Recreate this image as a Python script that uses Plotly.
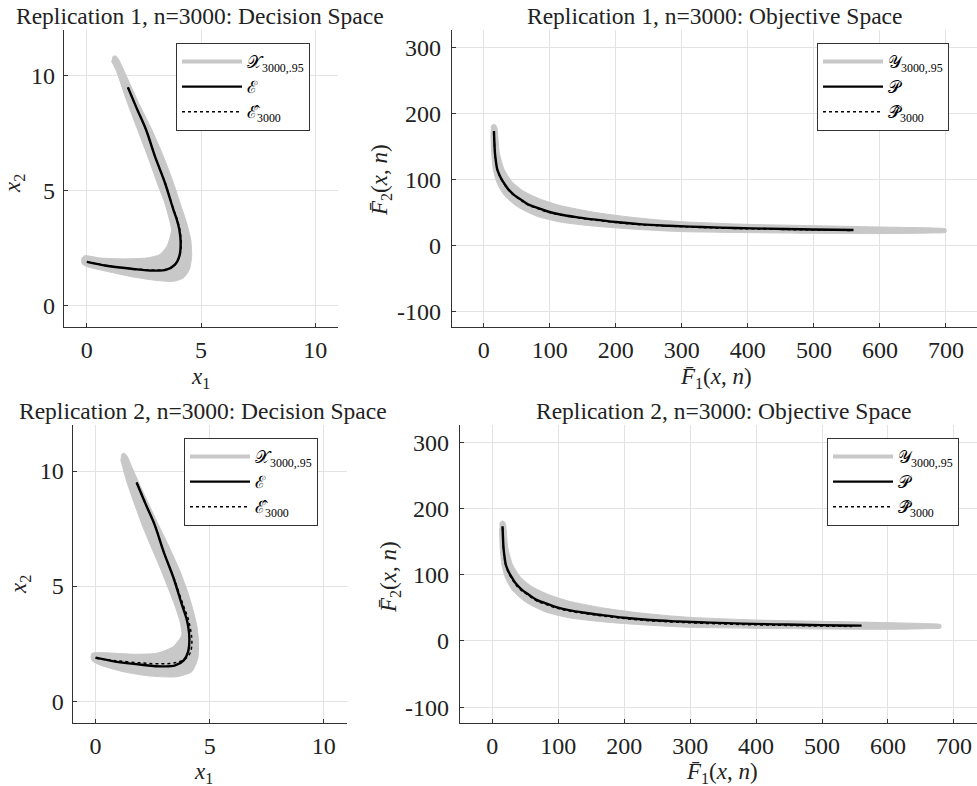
import plotly.graph_objects as go

# ---------------- Data: decision space ----------------
# true efficient set E (same for both replications)
E_x1 = [1.80, 2.20, 2.59, 2.98, 3.42, 3.79, 3.95, 4.05, 4.11, 4.05, 3.86, 3.49, 2.91, 2.03, 0.86, 0.00]
E_x2 = [9.50, 8.55, 7.66, 6.50, 5.34, 4.17, 3.70, 3.30, 2.72, 2.13, 1.77, 1.55, 1.51, 1.58, 1.72, 1.89]

# replication 1 estimated efficient set
Ehat1_x1 = [1.80, 2.20, 2.59, 2.98, 3.43, 3.80, 3.97, 4.07, 4.13, 4.07, 3.88, 3.50, 2.91, 2.03, 0.86, 0.00]
Ehat1_x2 = [9.50, 8.55, 7.66, 6.50, 5.34, 4.17, 3.70, 3.30, 2.72, 2.15, 1.79, 1.57, 1.53, 1.59, 1.73, 1.89]

# replication 1 confidence region X_{3000,.95} (boundary polygon)
X1_x1 = [1.12, 1.25, 1.40, 1.75, 2.30, 2.84, 3.35, 3.79, 4.08, 4.37, 4.55, 4.59, 4.49, 4.23, 3.79, 3.06, 2.03, 0.86,
         -0.01, -0.20, -0.23, -0.20, -0.09, 0.57, 1.59, 2.62, 3.20, 3.51, 3.64, 3.71, 3.40, 3.13, 2.70, 2.22, 1.75, 1.30, 1.08]
X1_x2 = [10.82, 10.88, 10.70, 9.95, 8.75, 7.66, 6.50, 5.34, 4.46, 3.59, 2.86, 2.13, 1.55, 1.19, 1.04, 1.08, 1.23, 1.48,
         1.69, 1.80, 1.95, 2.08, 2.16, 2.06, 2.02, 2.06, 2.21, 2.57, 2.95, 3.30, 4.50, 5.20, 6.40, 7.66, 8.90, 10.20, 10.65]

# replication 2 estimated efficient set
Ehat2_x1 = [1.80, 2.20, 2.59, 2.98, 3.45, 3.85, 4.05, 4.18, 4.22, 4.15, 3.95, 3.55, 2.91, 2.03, 0.86, 0.00]
Ehat2_x2 = [9.50, 8.55, 7.66, 6.50, 5.30, 4.15, 3.60, 3.00, 2.55, 2.10, 1.85, 1.68, 1.62, 1.66, 1.76, 1.86]

# replication 2 confidence region
X2_x1 = [1.12, 1.25, 1.40, 1.60, 2.10, 2.68, 3.20, 3.70, 4.05, 4.29, 4.45, 4.51, 4.48, 4.22, 3.56, 2.39, 1.21, 0.19,
         -0.15, -0.20, -0.15, 0.19, 1.65, 2.68, 3.41, 3.78, 3.70, 3.41, 2.83, 2.09, 1.36, 1.10]
X2_x2 = [10.70, 10.78, 10.62, 10.15, 9.05, 7.82, 6.75, 5.64, 4.70, 3.89, 3.20, 2.59, 1.86, 1.28, 1.06, 1.09, 1.28, 1.57,
         1.76, 1.93, 2.08, 2.11, 2.04, 2.08, 2.37, 2.88, 3.46, 4.33, 5.79, 7.53, 9.56, 10.50]

# ---------------- Data: objective space ----------------
P_f1 = [15.5, 16, 17, 18.5, 20.5, 24, 27, 32, 37, 45, 55, 67, 80, 97, 116, 140, 166, 200, 240, 280, 330, 380, 430, 480, 530, 560]
P_f2 = [173, 160, 140, 127, 115, 106, 100, 92, 85, 77, 70, 62, 57, 51, 46.5, 42.5, 39, 35, 31.5, 29.5, 27.5, 26, 25, 24, 23.3, 23]

Phat1_f1 = [15.5, 16, 17, 18.5, 20.5, 24, 27, 32, 37, 45, 55, 67, 80, 97, 116, 140, 166, 200, 240, 280, 330, 380, 430, 480, 530, 555]
Phat1_f2 = [172, 159, 139, 126, 114, 105, 99, 91, 84, 76, 69, 61, 56, 50, 45.8, 41.8, 38.3, 34.3, 30.8, 28.8, 26.8, 25.3, 24.3, 23.3, 22.6, 22.3]

Y1_f1 = [11, 13, 15.5, 18, 20, 23.6, 30.8, 42, 60, 85, 116, 166, 217, 267, 300, 400, 500, 600, 680, 700,
         700, 680, 600, 500, 400, 300, 267, 217, 166, 116, 80, 50, 30, 20, 14.5, 12, 11]
Y1_f2 = [178, 182, 183, 182, 178, 140, 115, 97, 82, 70, 60, 50, 43, 38, 35.5, 31.5, 29.5, 27.5, 26, 24.5,
         19.5, 18.5, 17.5, 18, 19, 20.5, 22, 25, 29, 35, 44, 59, 77, 95, 115, 140, 171]

Phat2_f1 = [15.5, 16, 17, 18.5, 20.5, 24, 27, 32, 37, 45, 55, 67, 80, 97, 116, 140, 166, 200, 240, 280, 330, 380, 430, 480, 530, 545]
Phat2_f2 = [171, 158, 138, 125, 113, 104, 98, 90, 83, 75.5, 68.5, 60.5, 55.5, 49.5, 45.3, 41.3, 37.8, 33.8, 30.3, 28.2, 26.2, 24.7, 23.7, 22.7, 22.0, 21.8]

Y2_f1 = [11, 13, 15.5, 18, 20, 23.6, 30.8, 42, 60, 85, 116, 166, 217, 267, 300, 400, 500, 600, 660, 680,
         680, 660, 600, 500, 400, 300, 267, 217, 166, 116, 80, 50, 30, 20, 14.5, 12, 11]
Y2_f2 = [176, 180, 181, 180, 176, 140, 115, 97, 82, 70, 60, 50, 43, 38, 35.5, 31.5, 29.5, 27.5, 26, 24.5,
         19.5, 18.5, 17.5, 18, 19, 20.5, 22, 25, 29, 35, 44, 59, 77, 95, 115, 140, 170]

# ---------------- Tick labels ----------------
dec_ticks = [0, 5, 10]
dec_ticktext = ["0", "5", "10"]
obj_xticks = [0, 100, 200, 300, 400, 500, 600, 700]
obj_xticktext = ["0", "100", "200", "300", "400", "500", "600", "700"]
obj_yticks = [-100, 0, 100, 200, 300]
obj_yticktext = ["-100", "0", "100", "200", "300"]

titles = ["Replication 1, n=3000: Decision Space", "Replication 1, n=3000: Objective Space",
          "Replication 2, n=3000: Decision Space", "Replication 2, n=3000: Objective Space"]

GRAY = "#c8c8c8"
FONT = "Liberation Serif"
W, H = 977, 786

fig = go.Figure()


def px_x(p):
    return p / W


def px_y(p):
    return 1 - p / H


panels = [
    ("x", "y", "legend", X1_x1, X1_x2, E_x1, E_x2, Ehat1_x1, Ehat1_x2,
     ("𝒳<sub>3000,.95</sub>", "ℰ", "ℰ̂<sub>3000</sub>")),
    ("x2", "y2", "legend2", Y1_f1, Y1_f2, P_f1, P_f2, Phat1_f1, Phat1_f2,
     ("𝒴<sub>3000,.95</sub>", "𝒫", "𝒫̂<sub>3000</sub>")),
    ("x3", "y3", "legend3", X2_x1, X2_x2, E_x1, E_x2, Ehat2_x1, Ehat2_x2,
     ("𝒳<sub>3000,.95</sub>", "ℰ", "ℰ̂<sub>3000</sub>")),
    ("x4", "y4", "legend4", Y2_f1, Y2_f2, P_f1, P_f2, Phat2_f1, Phat2_f2,
     ("𝒴<sub>3000,.95</sub>", "𝒫", "𝒫̂<sub>3000</sub>")),
]

for xa, ya, lg, bx, by, tx, ty, hx, hy, names in panels:
    fig.add_trace(go.Scatter(x=bx, y=by, xaxis=xa, yaxis=ya, mode="lines", fill="toself",
                             line_shape="spline", line_smoothing=0.6,
                             fillcolor=GRAY, line=dict(color=GRAY, width=1), showlegend=False,
                             hoverinfo="skip"))
    fig.add_trace(go.Scatter(x=[None], y=[None], xaxis=xa, yaxis=ya, mode="lines",
                             line=dict(color=GRAY, width=4), name=names[0], legend=lg))
    fig.add_trace(go.Scatter(x=tx, y=ty, xaxis=xa, yaxis=ya, mode="lines", line_shape="spline",
                             line=dict(color="black", width=2.4), name=names[1], legend=lg))
    fig.add_trace(go.Scatter(x=hx, y=hy, xaxis=xa, yaxis=ya, mode="lines", line_shape="spline",
                             line=dict(color="black", width=1.5, dash="dot"), name=names[2], legend=lg))

axis_common = dict(showline=True, linecolor="#333333", linewidth=1.2, mirror=False,
                   showgrid=True, gridcolor="#e3e3e3", gridwidth=1, zeroline=False,
                   ticks="inside", ticklen=4, tickcolor="#333333", automargin=False,
                   tickfont=dict(family=FONT, size=24, color="#222222"))

# panel geometry in pixels (left, right, top, bottom)
geo = {
    "1": (64, 338, 30, 327),
    "2": (452, 977, 30, 327),
    "3": (72.7, 346.7, 425, 723),
    "4": (460, 977, 425, 723),
}

layout_axes = {}
for k, (l, r, t, b) in geo.items():
    sfx = "" if k == "1" else k
    layout_axes["xaxis" + sfx] = dict(domain=[px_x(l), px_x(r)], anchor="y" + sfx, **axis_common)
    layout_axes["yaxis" + sfx] = dict(domain=[px_y(b), px_y(t)], anchor="x" + sfx, **axis_common)

for sfx in ["", "3"]:
    layout_axes["xaxis" + sfx].update(range=[-1.0, 11.0], tickvals=dec_ticks, ticktext=dec_ticktext,
                                      ticklabelstandoff=1)
    layout_axes["yaxis" + sfx].update(range=[-0.95, 12.0], tickvals=dec_ticks, ticktext=dec_ticktext,
                                      ticklabelstandoff=3)
layout_axes["xaxis2"].update(range=[-48, 747], tickvals=obj_xticks, ticktext=obj_xticktext, ticklabelstandoff=1)
layout_axes["xaxis4"].update(range=[-49, 735], tickvals=obj_xticks, ticktext=obj_xticktext, ticklabelstandoff=1)
for sfx in ["2", "4"]:
    layout_axes["yaxis" + sfx].update(range=[-124, 326], tickvals=obj_yticks, ticktext=obj_yticktext,
                                      ticklabelstandoff=5)

legend_common = dict(bgcolor="white", bordercolor="#333333", borderwidth=1,
                     font=dict(family=FONT, size=17, color="black"), itemwidth=60,
                     xanchor="left", yanchor="top", tracegroupgap=0)

annotations = []
title_pos = [(200, 16), (714, 16), (203, 411), (723, 411)]
for (cx, cy), txt in zip(title_pos, titles):
    annotations.append(dict(x=px_x(cx), y=px_y(cy), xref="paper", yref="paper", text=txt, showarrow=False,
                            xanchor="center", yanchor="middle",
                            font=dict(family=FONT, size=23.5, color="#222222")))

axis_labels = [
    (200, 378, "<i>x</i><sub>1</sub>", 0),
    (14, 184, "<i>x</i><sub>2</sub>", -90),
    (716, 378, "<i>F̄</i><sub>1</sub>(<i>x</i>, <i>n</i>)", 0),
    (381, 180, "<i>F̄</i><sub>2</sub>(<i>x</i>, <i>n</i>)", -90),
    (203, 773, "<i>x</i><sub>1</sub>", 0),
    (20, 585, "<i>x</i><sub>2</sub>", -90),
    (722, 773, "<i>F̄</i><sub>1</sub>(<i>x</i>, <i>n</i>)", 0),
    (390, 577, "<i>F̄</i><sub>2</sub>(<i>x</i>, <i>n</i>)", -90),
]
for cx, cy, txt, ang in axis_labels:
    annotations.append(dict(x=px_x(cx), y=px_y(cy), xref="paper", yref="paper", text=txt, showarrow=False,
                            xanchor="center", yanchor="middle", textangle=ang,
                            font=dict(family=FONT, size=23, color="#222222")))

fig.update_layout(
    width=W, height=H, margin=dict(l=0, r=0, t=0, b=0),
    paper_bgcolor="white", plot_bgcolor="white",
    annotations=annotations,
    legend=dict(x=px_x(176), y=px_y(43), **legend_common),
    legend2=dict(x=px_x(817), y=px_y(43), **legend_common),
    legend3=dict(x=px_x(184), y=px_y(438), **legend_common),
    legend4=dict(x=px_x(827), y=px_y(438), **legend_common),
    **layout_axes,
)

fig.write_html("out.html", config={"displayModeBar": False},
               post_script="document.body.style.margin='0';document.body.style.overflow='hidden';")
